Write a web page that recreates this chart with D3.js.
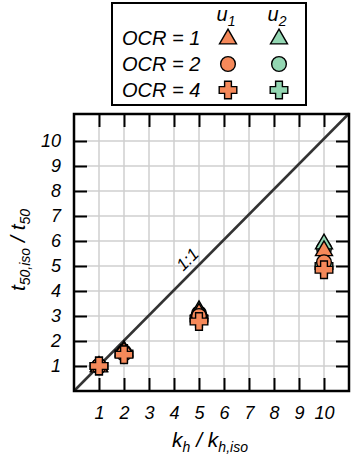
<!DOCTYPE html>
<html>
<head>
<meta charset="utf-8">
<script src="https://cdn.jsdelivr.net/npm/d3@7"></script>
<style>
  body { margin: 0; background: #fff; }
  text { font-family: "Liberation Sans", Arial, sans-serif; font-style: italic; }
</style>
</head>
<body>
<svg id="chart"></svg>
<script>
// ratios
let khRatio = [1, 2, 5, 10]
let u1_ocr1 = [1.0, 1.6, 3.15, 5.65]
let u1_ocr2 = [1.0, 1.5, 3.0, 5.15]
let u1_ocr4 = [1.0, 1.45, 2.78, 4.85]
let u2_ocr1 = [1.02, 1.65, 3.25, 5.92]
let u2_ocr2 = [1.0, 1.55, 3.1, 5.7]
let u2_ocr4 = [1.0, 1.5, 2.9, 5.0]
let tickValues = [1, 2, 3, 4, 5, 6, 7, 8, 9, 10]
let ocrLabels = ['OCR = 1', 'OCR = 2', 'OCR = 4']

let width = 353
let height = 457
let orange = '#f5895a'
let green = '#93d6b2'

let svg = d3.select('#chart').attr('width', width).attr('height', height)

let xScale = d3.scaleLinear().domain([0, 11]).range([74, 349])
let yScale = d3.scaleLinear().domain([0, 11]).range([391, 116])

// grid
svg.append('g').selectAll('line').data(tickValues).enter().append('line')
    .attr('x1', d => xScale(d)).attr('x2', d => xScale(d))
    .attr('y1', yScale(0)).attr('y2', 114)
    .attr('stroke', '#cfcfcf').attr('stroke-width', 1.5)
svg.append('g').selectAll('line').data(tickValues).enter().append('line')
    .attr('y1', d => yScale(d)).attr('y2', d => yScale(d))
    .attr('x1', xScale(0)).attr('x2', xScale(11))
    .attr('stroke', '#cfcfcf').attr('stroke-width', 1.5)

// 1:1 line
svg.append('line')
    .attr('x1', xScale(0)).attr('y1', yScale(0))
    .attr('x2', xScale(11)).attr('y2', yScale(11.1))
    .attr('stroke', '#333').attr('stroke-width', 2.5)
svg.append('text')
    .attr('transform', 'translate(' + xScale(4.7) + ',' + yScale(5.1) + ') rotate(-45)')
    .attr('text-anchor', 'middle')
    .attr('font-size', 17)
    .text('1:1')

// axes with inward ticks on all sides
let tickLen = 13
let styleAxis = (g) => {
    g.select('.domain').remove()
    g.selectAll('.tick line').attr('stroke', '#000').attr('stroke-width', 2)
    g.selectAll('.tick text')
        .attr('font-size', 18)
        .attr('font-family', '"Liberation Sans", Arial, sans-serif')
        .attr('font-style', 'italic')
        .attr('fill', '#000')
}
svg.append('g')
    .attr('transform', 'translate(0,' + yScale(0) + ')')
    .call(d3.axisBottom(xScale).tickValues(tickValues).tickSize(-tickLen).tickPadding(15))
    .call(styleAxis)
svg.append('g')
    .attr('transform', 'translate(0,114)')
    .call(d3.axisTop(xScale).tickValues(tickValues).tickSize(-tickLen).tickFormat(''))
    .call(styleAxis)
svg.append('g')
    .attr('transform', 'translate(' + xScale(0) + ',0)')
    .call(d3.axisLeft(yScale).tickValues(tickValues).tickSize(-tickLen).tickPadding(13))
    .call(styleAxis)
svg.append('g')
    .attr('transform', 'translate(' + xScale(11) + ',0)')
    .call(d3.axisRight(yScale).tickValues(tickValues).tickSize(-tickLen).tickFormat(''))
    .call(styleAxis)

// frame
svg.append('rect')
    .attr('x', xScale(0)).attr('y', 114)
    .attr('width', xScale(11) - xScale(0)).attr('height', yScale(0) - 114)
    .attr('fill', 'none').attr('stroke', '#000').attr('stroke-width', 2.5)

// markers
let symTri = d3.symbol().type(d3.symbolTriangle).size(125)
let symCirc = d3.symbol().type(d3.symbolCircle).size(170)
let plusPath = () => {
    let a = 3.4, b = 8.8
    return 'M' + -a + ',' + -b + 'H' + a + 'V' + -a + 'H' + b + 'V' + a + 'H' + a +
        'V' + b + 'H' + -a + 'V' + a + 'H' + -b + 'V' + -a + 'H' + -a + 'Z'
}
let drawSeries = (vals, shape, color, dy) => {
    svg.append('g').selectAll('path').data(vals).enter().append('path')
        .attr('d', shape === 'tri' ? symTri() : shape === 'circ' ? symCirc() : plusPath())
        .attr('transform', (d, i) => 'translate(' + xScale(khRatio[i]) + ',' + (yScale(d) + dy) + ')')
        .attr('fill', color)
        .attr('stroke', '#000')
        .attr('stroke-width', 1.4)
}
drawSeries(u2_ocr4, 'plus', green, 0)
drawSeries(u2_ocr2, 'circ', green, 0)
drawSeries(u2_ocr1, 'tri', green, 1)
drawSeries(u1_ocr1, 'tri', orange, 1)
drawSeries(u1_ocr2, 'circ', orange, 0)
drawSeries(u1_ocr4, 'plus', orange, 0)

// axis titles
let xTitle = svg.append('text')
    .attr('x', 210).attr('y', 447)
    .attr('text-anchor', 'middle')
    .attr('font-size', 21)
xTitle.append('tspan').text('k')
xTitle.append('tspan').attr('font-size', 14).attr('dy', 5).text('h')
xTitle.append('tspan').attr('dy', -5).text(' / k')
xTitle.append('tspan').attr('font-size', 14).attr('dy', 5).text('h,iso')

let yTitle = svg.append('text')
    .attr('transform', 'translate(25,250) rotate(-90)')
    .attr('text-anchor', 'middle')
    .attr('font-size', 21)
yTitle.append('tspan').text('t')
yTitle.append('tspan').attr('font-size', 14).attr('dy', 5).text('50,iso')
yTitle.append('tspan').attr('dy', -5).text(' / t')
yTitle.append('tspan').attr('font-size', 14).attr('dy', 5).text('50')

// legend
let legend = svg.append('g')
legend.append('rect')
    .attr('x', 112).attr('y', 3).attr('width', 194).attr('height', 102)
    .attr('fill', '#fff').attr('stroke', '#000').attr('stroke-width', 2)
let legendX = [228, 279]
let legendY = [38, 64, 90]
let headers = ['1', '2']
headers.forEach((h, i) => {
    let t = legend.append('text')
        .attr('x', legendX[i] - 2).attr('y', 21)
        .attr('text-anchor', 'middle')
        .attr('font-size', 20)
    t.append('tspan').text('u')
    t.append('tspan').attr('font-size', 14).attr('dy', 5).text(h)
})
ocrLabels.forEach((l, i) => {
    legend.append('text')
        .attr('x', 122).attr('y', legendY[i] + 7)
        .attr('font-size', 20)
        .text(l)
})
let legendShapes = ['tri', 'circ', 'plus']
let legendColors = [orange, green]
legendColors.forEach((c, j) => {
    legendShapes.forEach((s, i) => {
        legend.append('path')
            .attr('d', s === 'tri' ? symTri() : s === 'circ' ? symCirc() : plusPath())
            .attr('transform', 'translate(' + legendX[j] + ',' + (legendY[i] + (s === 'tri' ? 1 : 0)) + ')')
            .attr('fill', c).attr('stroke', '#000').attr('stroke-width', 1.4)
    })
})
</script>
</body>
</html>
